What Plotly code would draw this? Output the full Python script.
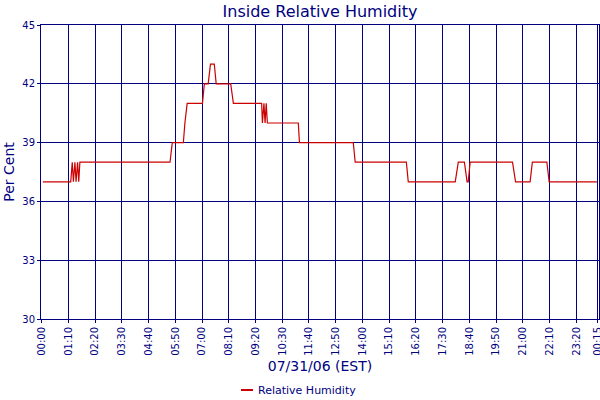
import plotly.graph_objects as go

# readings (time of day, per cent); "24:xx" is just after midnight on 08/01
times = ["00:03", "01:16", "01:20", "01:23", "01:27", "01:30", "01:34", "01:37",
         "01:40", "05:36", "05:42", "06:11", "06:15", "06:21", "07:01", "07:06",
         "07:16", "07:22", "07:32", "07:37", "08:15", "08:22", "09:36", "09:38",
         "09:42", "09:45", "09:48", "09:51", "11:12", "11:15", "13:36", "13:41",
         "15:55", "16:00", "18:03", "18:11", "18:27", "18:34", "18:37", "18:42",
         "20:33", "20:41", "21:19", "21:25", "22:03", "22:09", "24:14"]
humidity = [37, 37, 38, 37, 38, 37, 38, 37,
            38, 38, 39, 39, 40, 41, 41, 42,
            42, 43, 43, 42, 42, 41, 41, 40,
            41, 40, 41, 40, 40, 39, 39, 38,
            38, 37, 37, 38, 38, 37, 37, 38,
            38, 37, 37, 38, 38, 37, 37]

tick_times = ["00:00", "01:10", "02:20", "03:30", "04:40", "05:50", "07:00",
              "08:10", "09:20", "10:30", "11:40", "12:50", "14:00", "15:10",
              "16:20", "17:30", "18:40", "19:50", "21:00", "22:10", "23:20",
              "24:15"]
y_ticks = [30, 33, 36, 39, 42, 45]

NAVY = "#000080"
RED = "#cc0000"
FONT = "DejaVu Sans"


def minutos(hhmm):
    h, m = hhmm.split(":")
    return int(h) * 60 + int(m)


x = [minutos(t) for t in times]
tick_vals = [minutos(t) for t in tick_times]
tick_text = ["%02d:%s" % (int(t[:2]) % 24, t[3:]) for t in tick_times]

fig = go.Figure()
fig.add_trace(go.Scatter(
    x=x, y=humidity, mode="lines", name="Relative Humidity",
    line=dict(color=RED, width=1.2), showlegend=False,
))

fig.update_layout(
    width=600, height=400,
    margin=dict(l=41, r=1, t=25, b=81),
    paper_bgcolor="white", plot_bgcolor="white",
    font=dict(family=FONT, color=NAVY),
    title=dict(text="Inside Relative Humidity", x=0.5, xref="paper",
               y=1 - 11 / 400, yanchor="middle",
               font=dict(size=16, color=NAVY)),
)

fig.update_xaxes(
    range=[-1.83, 1459.5], automargin=False,
    tickvals=tick_vals, ticktext=tick_text, tickangle=-90,
    ticklabeloverflow="allow",
    tickfont=dict(size=10, color=NAVY),
    ticks="outside", ticklen=3, tickcolor=NAVY,
    showgrid=True, gridcolor=NAVY, gridwidth=1, zeroline=False,
    showline=True, linecolor=NAVY, linewidth=1, mirror=True,
    title=dict(text="07/31/06 (EST)", font=dict(size=14, color=NAVY), standoff=6),
)
fig.update_yaxes(
    range=[30, 45], tickvals=y_ticks, automargin=False,
    tickfont=dict(size=10, color=NAVY),
    ticks="outside", ticklen=3, tickcolor=NAVY,
    showgrid=True, gridcolor=NAVY, gridwidth=1, zeroline=False,
    showline=True, linecolor=NAVY, linewidth=1, mirror=True,
    title=dict(text="Per Cent", font=dict(size=14, color=NAVY), standoff=4),
)

# legend drawn by hand: short swatch + label under the axis title
ly = (319 - 390) / 294
fig.add_shape(type="line", xref="paper", yref="paper",
              x0=(241 - 41) / 558, x1=(253 - 41) / 558, y0=ly, y1=ly,
              line=dict(color=RED, width=2))
fig.add_annotation(text="Relative Humidity", xref="paper", yref="paper",
                   x=(256 - 41) / 558, y=ly, xanchor="left", yanchor="middle",
                   showarrow=False, font=dict(size=11, color=NAVY))

# sin margem do body, o grafico fica colado no canto da janela
fig.write_html("out.html", config={"displayModeBar": False},
               post_script="document.body.style.margin = '0px';")
